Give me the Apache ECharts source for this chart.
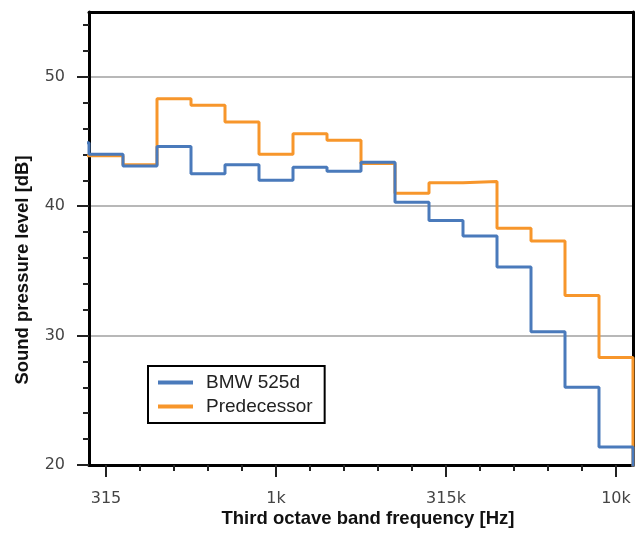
<!DOCTYPE html>
<html>
<head>
<meta charset="utf-8">
<script src="https://cdn.jsdelivr.net/npm/echarts@6/dist/echarts.min.js"></script>
<style>
  html, body { margin: 0; padding: 0; background: #fff; }
  #chart { width: 642px; height: 536px; }
</style>
</head>
<body>
<div id="chart"></div>
<script>
// third octave bands shown on the axis
const bands = ['315', '400', '500', '630', '800', '1k', '1.25k', '1.6k', '2k', '2.5k', '3.15k', '4k', '5k', '6.3k', '8k', '10k'];
const tickLabels = ['315', '', '', '', '', '1k', '', '', '', '', '315k', '', '', '', '', '10k'];
const yMajorTicks = [20, 30, 40, 50];
const yMinorTicks = [22, 24, 26, 28, 32, 34, 36, 38, 42, 44, 46, 48, 52, 54];

// levels in dB, one per band; first and last entries are the clipped bands 250 Hz and 12.5k
const bmw525d = [44.9, 44.0, 43.1, 44.6, 42.5, 43.2, 42.0, 43.0, 42.7, 43.4, 40.3, 38.9, 37.7, 35.3, 30.3, 26.0, 21.4, 18];
const predecessor = [43.9, 43.9, 43.2, 48.3, 47.8, 46.5, 44.0, 45.6, 45.1, 43.3, 41.0, 41.8, 41.9, 38.3, 37.3, 33.1, 28.3, 18];

const blue = '#4a7abb';
const orange = '#f7962b';
const font = 'Liberation Sans';
const tickFont = 'DejaVu Sans';

// each band value starts at its left band edge
const toSteps = (vals) => vals.map((v, i) => [i - 1, v]);

const frameLine = { show: true, lineStyle: { color: '#000', width: 3 } };

const chart = echarts.init(document.getElementById('chart'));

chart.setOption({
    animation: false,
    grid: {
        left: 89,
        right: 9,
        top: 12,
        bottom: 71,
    },
    legend: {
        left: 148,
        top: 366,
        orient: 'vertical',
        borderColor: '#000',
        borderWidth: 2,
        padding: [7, 12, 7, 10],
        itemGap: 5,
        itemWidth: 35,
        itemHeight: 4,
        icon: 'rect',
        textStyle: { fontFamily: font, fontSize: 19, color: '#222', padding: [0, 0, 0, 8] },
        data: ['BMW 525d', 'Predecessor'],
    },
    graphic: [
        {
            type: 'text',
            x: 13,
            y: 270,
            rotation: Math.PI / 2,
            style: {
                text: 'Sound pressure level [dB]',
                fontFamily: font,
                fontWeight: 'bold',
                fontSize: 18.5,
                fill: '#111',
                align: 'center',
                verticalAlign: 'top',
            },
        },
        {
            type: 'text',
            x: 368,
            y: 519,
            style: {
                text: 'Third octave band frequency [Hz]',
                fontFamily: font,
                fontWeight: 'bold',
                fontSize: 18.5,
                fill: '#111',
                align: 'center',
                verticalAlign: 'middle',
            },
        },
    ],
    xAxis: [
        {
            type: 'category',
            data: bands,
            boundaryGap: true,
            position: 'bottom',
            axisLine: frameLine,
            axisTick: {
                show: true,
                alignWithLabel: true,
                interval: (i) => i % 5 === 0,
                length: 12,
                lineStyle: { color: '#222', width: 2 },
            },
            axisLabel: {
                show: true,
                interval: (i) => i % 5 === 0,
                formatter: (v, i) => tickLabels[i],
                margin: 26,
                fontFamily: tickFont,
                fontSize: 16,
                color: '#444',
            },
            splitLine: { show: false },
        },
        {
            type: 'category',
            data: bands,
            boundaryGap: true,
            position: 'bottom',
            axisLine: { show: false },
            axisTick: {
                show: true,
                alignWithLabel: true,
                interval: 0,
                length: 6,
                lineStyle: { color: '#222', width: 2 },
            },
            axisLabel: { show: false },
            splitLine: { show: false },
        },
        {
            type: 'value',
            min: 0,
            max: bands.length,
            show: false,
        },
        {
            type: 'category',
            data: bands,
            position: 'top',
            axisLine: frameLine,
            axisTick: { show: false },
            axisLabel: { show: false },
            splitLine: { show: false },
        },
    ],
    yAxis: [
        {
            type: 'value',
            min: 20,
            max: 55,
            interval: 10,
            position: 'left',
            axisLine: frameLine,
            axisTick: { show: true, customValues: yMajorTicks, length: 12, lineStyle: { color: '#222', width: 2 } },
            axisLabel: {
                customValues: yMajorTicks,
                margin: 24,
                fontFamily: tickFont,
                fontSize: 16,
                color: '#444',
            },
            splitLine: { show: true, lineStyle: { color: '#b8b8b8', width: 2 } },
        },
        {
            type: 'value',
            min: 20,
            max: 55,
            position: 'left',
            axisLine: { show: false },
            axisTick: { show: true, customValues: yMinorTicks, length: 6, lineStyle: { color: '#222', width: 2 } },
            axisLabel: { show: false },
            splitLine: { show: false },
        },
        {
            type: 'value',
            min: 20,
            max: 55,
            position: 'right',
            axisLine: frameLine,
            axisTick: { show: false },
            axisLabel: { show: false },
            splitLine: { show: false },
        },
    ],
    series: [
        {
            name: 'BMW 525d',
            type: 'line',
            xAxisIndex: 2,
            step: 'end',
            symbol: 'none',
            clip: true,
            color: blue,
            lineStyle: { color: blue, width: 3 },
            data: toSteps(bmw525d),
            z: 3,
        },
        {
            name: 'Predecessor',
            type: 'line',
            xAxisIndex: 2,
            step: 'end',
            symbol: 'none',
            clip: true,
            color: orange,
            lineStyle: { color: orange, width: 3 },
            data: toSteps(predecessor),
            z: 2,
        },
    ],
});
</script>
</body>
</html>
